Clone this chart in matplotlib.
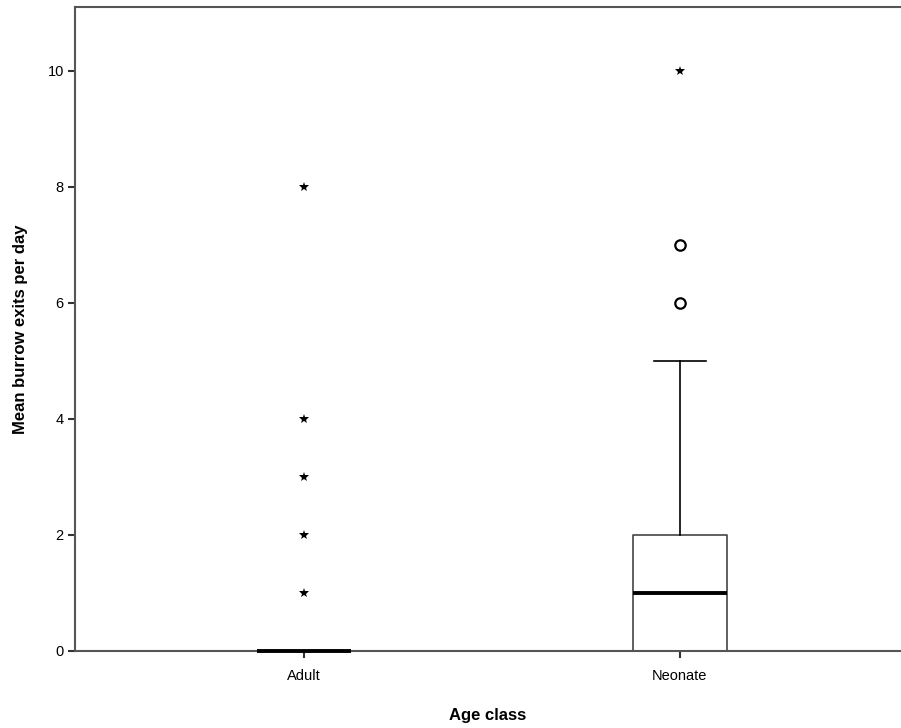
import numpy as np
import matplotlib.pyplot as plt

plt.rcParams['font.family'] = ['Liberation Sans', 'DejaVu Sans']

# Box summaries per age class
groups = ['Adult', 'Neonate']
q1 = [0, 0]
median = [0, 1]
q3 = [0, 2]
whisker_lo = [0, 0]
whisker_hi = [0, 5]
# outliers (circles) and extreme values (stars)
outliers = [[], [6, 7]]
extremes = [[1, 2, 3, 4, 8], [10]]

fig = plt.figure(figsize=(9.01, 7.28), dpi=100)
ax = fig.add_axes([0.0832, 0.1058, 0.9168, 0.8846])

stats = []
for i, g in enumerate(groups):
    stats.append(dict(label=g, med=median[i], q1=q1[i], q3=q3[i],
                      whislo=whisker_lo[i], whishi=whisker_hi[i], fliers=[]))

pos = [1, 2]
ax.bxp(stats, positions=pos, widths=0.25, showfliers=False,
       boxprops=dict(color='#444444', linewidth=1.2),
       medianprops=dict(color='black', linewidth=2.8, zorder=6, clip_on=False),
       whiskerprops=dict(color='black', linewidth=1.2),
       capprops=dict(color='black', linewidth=1.2),
       capwidths=0.14)

for i in range(len(groups)):
    if outliers[i]:
        ax.plot([pos[i]] * len(outliers[i]), outliers[i], 'o', ms=7.5,
                mfc='none', mec='black', mew=1.6, zorder=5)
    if extremes[i]:
        ax.plot([pos[i]] * len(extremes[i]), extremes[i], '*', ms=7.5,
                color='black', mew=0, zorder=5)

ax.set_xlim(0.391, 2.588)
ax.set_ylim(0, 11.1)
ax.set_yticks([0, 2, 4, 6, 8, 10])
ax.set_xticks(pos)
ax.set_xticklabels(groups)

for s in ['left', 'top', 'bottom']:
    ax.spines[s].set_color('#555555')
    ax.spines[s].set_linewidth(1.5)
ax.spines['right'].set_visible(False)
ax.tick_params(axis='both', length=5, width=1.5, color='#333333',
               labelsize=10.5)
ax.tick_params(axis='x', pad=8)
ax.tick_params(axis='y', pad=3)

ax.set_xlabel('Age class', fontsize=12, fontweight='bold', labelpad=18)
ax.set_ylabel('Mean burrow exits per day', fontsize=12, fontweight='bold', labelpad=14)

fig.savefig('out.png', dpi=100)
